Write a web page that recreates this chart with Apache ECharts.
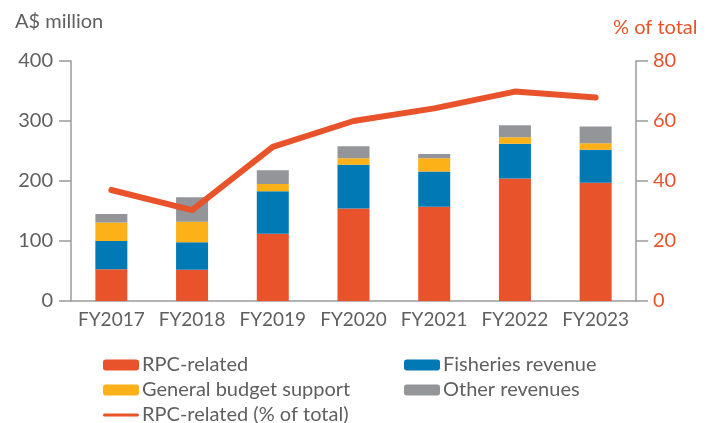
<!DOCTYPE html>
<html><head><meta charset="utf-8">
<script src="https://cdn.jsdelivr.net/npm/echarts@6/dist/echarts.min.js"></script>
<style>html,body{margin:0;padding:0;background:#fff}#c{width:714px;height:423px}</style>
</head><body><div id="c"></div>
<script>
const categories = ['FY2017','FY2018','FY2019','FY2020','FY2021','FY2022','FY2023'];
const rpcRelated = [53, 52, 112, 154, 157, 204, 197];
const fisheries = [47, 46, 71, 73, 59, 58, 55];
const budgetSupport = [31, 34, 12, 11, 22, 11, 11];
const otherRevenues = [14, 41, 23, 20, 7, 20, 28];
const rpcShare = [37, 30.3, 51.4, 60, 64.2, 69.8, 67.8];
const leftTicks = [0, 100, 200, 300, 400];
const rightTicks = [0, 20, 40, 60, 80];

const RED = '#E8532B', BLUE = '#0079B4', YEL = '#FBB117', GREY = '#939598';
const TXT = '#5f5f5f', AX = '#9a9a9a';
const FONT = 'Lato';

const chart = echarts.init(document.getElementById('c'));
const barBase = {type: 'bar', stack: 'total', barWidth: 32, yAxisIndex: 0};
const legendText = {color: TXT, fontSize: 20, fontFamily: FONT, lineHeight: 20, padding: [0,0,0,-2]};
chart.setOption({
  animation: false,
  textStyle: {fontFamily: FONT},
  grid: {left: 71, right: 78, top: 61, bottom: 122},
  graphic: [
    {type: 'text', left: 15, top: 12, style: {text: 'A$ million', fill: TXT, font: '20px ' + FONT}},
    {type: 'text', left: 613, top: 18, style: {text: '% of total', fill: RED, font: '20px ' + FONT}}
  ],
  legend: [
    {left: 103, top: 355, height: 100, padding: 0, orient: 'vertical', itemWidth: 36, itemHeight: 11, itemGap: 5,
     textStyle: legendText, symbolKeepAspect: true,
     data: ['RPC-related', 'General budget support',
            {name: 'RPC-related (% of total)', icon: 'path://M1.5,0H34.5A1.5,1.5 0 0 1 34.5,3H1.5A1.5,1.5 0 0 1 1.5,0Z', itemStyle: {color: RED}}]},
    {left: 404, top: 355, height: 100, padding: 0, orient: 'vertical', itemWidth: 36, itemHeight: 11, itemGap: 5,
     textStyle: legendText,
     data: ['Fisheries revenue', 'Other revenues']}
  ],
  xAxis: {
    type: 'category', data: categories,
    axisLine: {lineStyle: {color: AX, width: 1.5}},
    axisTick: {show: false},
    axisLabel: {color: TXT, fontSize: 19, margin: 9, fontFamily: FONT, interval: 0}
  },
  yAxis: [
    {type: 'value', min: leftTicks[0], max: leftTicks[leftTicks.length-1], interval: 100,
     axisLine: {show: true, lineStyle: {color: AX, width: 1.5}},
     axisTick: {show: true, inside: false, length: 12, lineStyle: {color: AX, width: 1.5}},
     axisLabel: {color: TXT, fontSize: 20, margin: 18, fontFamily: FONT},
     splitLine: {show: false}},
    {type: 'value', min: rightTicks[0], max: rightTicks[rightTicks.length-1], interval: 20, position: 'right',
     axisLine: {show: true, lineStyle: {color: AX, width: 1.5}},
     axisTick: {show: true, length: 12, lineStyle: {color: AX, width: 1.5}},
     axisLabel: {color: RED, fontSize: 20, margin: 17, fontFamily: FONT},
     splitLine: {show: false}}
  ],
  series: [
    Object.assign({name: 'RPC-related', data: rpcRelated, itemStyle: {color: RED}}, barBase),
    Object.assign({name: 'Fisheries revenue', data: fisheries, itemStyle: {color: BLUE}}, barBase),
    Object.assign({name: 'General budget support', data: budgetSupport, itemStyle: {color: YEL}}, barBase),
    Object.assign({name: 'Other revenues', data: otherRevenues, itemStyle: {color: GREY}}, barBase),
    {name: 'RPC-related (% of total)', type: 'line', yAxisIndex: 1, data: rpcShare,
     symbol: 'none', lineStyle: {color: RED, width: 6, cap: 'round', join: 'round'}, itemStyle: {color: RED}, z: 5}
  ]
});
</script>
</body></html>
